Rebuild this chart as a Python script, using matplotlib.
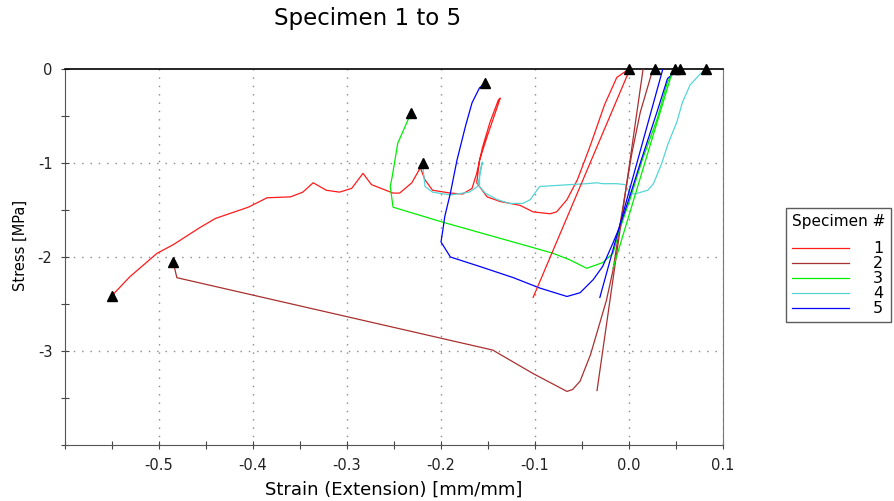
import numpy as np
import matplotlib
matplotlib.use("Agg")
import matplotlib.pyplot as plt

# curvas (strain, stress)
spec1_x = [0.0, -0.013, -0.026, -0.041, -0.047, -0.055, -0.066, -0.077, -0.084, -0.102, -0.116,
           -0.137, -0.151, -0.162, -0.159, -0.151, -0.140, -0.137, -0.139, -0.148, -0.156, -0.162,
           -0.167, -0.177, -0.19, -0.209, -0.217, -0.222, -0.231, -0.244, -0.251, -0.274, -0.283,
           -0.295, -0.308, -0.322, -0.336, -0.347, -0.36, -0.385, -0.405, -0.44, -0.457, -0.485,
           -0.502, -0.531, -0.55]
spec1_y = [0.0, -0.09, -0.38, -0.81, -0.97, -1.18, -1.39, -1.52, -1.54, -1.52, -1.45,
           -1.41, -1.36, -1.21, -0.97, -0.72, -0.40, -0.31, -0.33, -0.57, -0.84, -1.11,
           -1.27, -1.33, -1.32, -1.29, -1.18, -1.05, -1.21, -1.32, -1.32, -1.23, -1.11,
           -1.27, -1.31, -1.29, -1.21, -1.31, -1.36, -1.37, -1.47, -1.59, -1.69, -1.87,
           -1.96, -2.21, -2.41]

spec2_x = [0.028, 0.024, 0.012, 0.003, -0.004, -0.01, -0.017, -0.024, -0.031, -0.041, -0.052,
           -0.06, -0.066, -0.102, -0.145, -0.481, -0.485]
spec2_y = [0.0, -0.05, -0.46, -0.9, -1.32, -1.68, -2.14, -2.46, -2.70, -3.04, -3.32,
           -3.41, -3.43, -3.24, -2.99, -2.22, -2.05]

spec3_x = [0.049, 0.047, 0.041, 0.03, 0.014, 0.001, -0.01, -0.017, -0.028, -0.045, -0.063,
           -0.081, -0.102, -0.198, -0.251, -0.254, -0.252, -0.246, -0.232]
spec3_y = [0.0, -0.03, -0.14, -0.53, -0.97, -1.39, -1.71, -1.96, -2.06, -2.12, -2.03,
           -1.96, -1.90, -1.63, -1.47, -1.25, -1.15, -0.79, -0.47]

spec4_x = [0.082, 0.076, 0.065, 0.057, 0.051, 0.041, 0.035, 0.026, 0.02, 0.006, 0.001, -0.004,
           -0.013, -0.028, -0.034, -0.045, -0.063, -0.095, -0.098, -0.105, -0.113, -0.127,
           -0.14, -0.153, -0.159, -0.159, -0.156, -0.161, -0.17, -0.19, -0.209, -0.217,
           -0.219, -0.219]
spec4_y = [0.0, -0.05, -0.17, -0.35, -0.56, -0.81, -1.0, -1.22, -1.29, -1.33, -1.32, -1.23,
           -1.22, -1.22, -1.21, -1.22, -1.23, -1.25, -1.29, -1.39, -1.43, -1.43,
           -1.39, -1.32, -1.25, -1.11, -0.99, -1.25, -1.31, -1.34, -1.31, -1.25,
           -1.07, -1.0]

spec5_x = [0.054, 0.041, 0.03, 0.012, 0.001, -0.01, -0.017, -0.028, -0.038, -0.052, -0.066,
           -0.095, -0.123, -0.159, -0.19, -0.2, -0.198, -0.196, -0.19, -0.183, -0.174,
           -0.167, -0.159, -0.153]
spec5_y = [0.0, -0.1, -0.45, -1.0, -1.35, -1.68, -1.85, -2.1, -2.24, -2.38, -2.42,
           -2.33, -2.22, -2.1, -2.0, -1.84, -1.71, -1.57, -1.32, -0.97, -0.61,
           -0.36, -0.2, -0.15]

# rectas (modulo) de cada probeta: [x0, x1], [y0, y1]
line1_x, line1_y = [0.001, -0.102], [0.0, -2.43]
line2_x, line2_y = [0.015, -0.034], [0.0, -3.42]
line3_x, line3_y = [0.047, -0.017], [0.0, -2.12]
line5_x, line5_y = [0.036, -0.031], [0.0, -2.43]

labels = ["1", "2", "3", "4", "5"]
colores = ["#ff1a1a", "#a83030", "#00ee00", "#55d5d5", "#0000ff"]

curvas = [(spec1_x, spec1_y), (spec2_x, spec2_y), (spec3_x, spec3_y),
          (spec4_x, spec4_y), (spec5_x, spec5_y)]
rectas = [(0, line1_x, line1_y), (1, line2_x, line2_y), (2, line3_x, line3_y),
          (4, line5_x, line5_y)]

fig = plt.figure(figsize=(8.94, 5.01), dpi=100)
ax = fig.add_axes([65 / 894, 1 - 445 / 501, (723 - 65) / 894, (445 - 69) / 501])

for i, (cx, cy) in enumerate(curvas):
    ax.plot(cx, cy, color=colores[i], lw=0.9, label=labels[i], zorder=3)
for i, lx, ly in rectas:
    ax.plot(lx, ly, color=colores[i], lw=0.9, zorder=3)

# triangulos al inicio y final de cada curva
for cx, cy in curvas:
    ax.plot([cx[0], cx[-1]], [cy[0], cy[-1]], linestyle="none", marker="^",
            color="black", markersize=7.5, zorder=5, clip_on=False)

ax.set_xlim(-0.6, 0.1)
ax.set_ylim(-4, 0)
xt = np.arange(-0.6, 0.101, 0.05)
ax.set_xticks(xt)
ax.set_xticklabels(["" if abs(v - round(v, 1)) > 1e-6 or v < -0.55 else "%.1f" % v for v in xt])
yt = np.arange(-4, 0.01, 0.5)
ax.set_yticks(yt)
ax.set_yticklabels(["%d" % v if v == int(v) and v > -4 else "" for v in yt])
ax.tick_params(direction="inout", length=6, width=0.8, color="#444444",
               labelsize=10.5, labelcolor="#222222", pad=6)

for v in np.arange(-0.5, 0.101, 0.1):
    ax.axvline(v, color="#888888", lw=1, linestyle=(0, (1, 5)), zorder=1)
for v in [-1, -2, -3]:
    ax.axhline(v, color="#888888", lw=1, linestyle=(0, (1, 5)), zorder=1)

ax.spines["left"].set_color("#555555")
ax.spines["bottom"].set_color("#555555")
ax.spines["right"].set_color("#777777")
ax.spines["top"].set_color("black")
ax.spines["top"].set_linewidth(1.2)

ax.set_xlabel("Strain (Extension) [mm/mm]", fontsize=13)
ax.xaxis.set_label_coords(0.5, -0.095)
ax.set_ylabel("Stress [MPa]", fontsize=10.5)
ax.yaxis.set_label_coords(-0.056, 0.53)

fig.text(368 / 894, 1 - 18 / 501, "Specimen 1 to 5", fontsize=16.5, ha="center", va="center")

leg = ax.legend(title="Specimen #", loc="upper left", bbox_to_anchor=(786 / 894, 1 - 208 / 501),
                bbox_transform=fig.transFigure, fancybox=False, edgecolor="#333333",
                fontsize=11.5, title_fontsize=11, handlelength=3.6, handletextpad=1.5,
                labelspacing=0.0, borderpad=0.35, borderaxespad=0, alignment="left")
leg.get_frame().set_linewidth(1.0)
leg._legend_box.sep = 9  # mas espacio entre titulo y entradas

fig.savefig("out.png", dpi=100)
